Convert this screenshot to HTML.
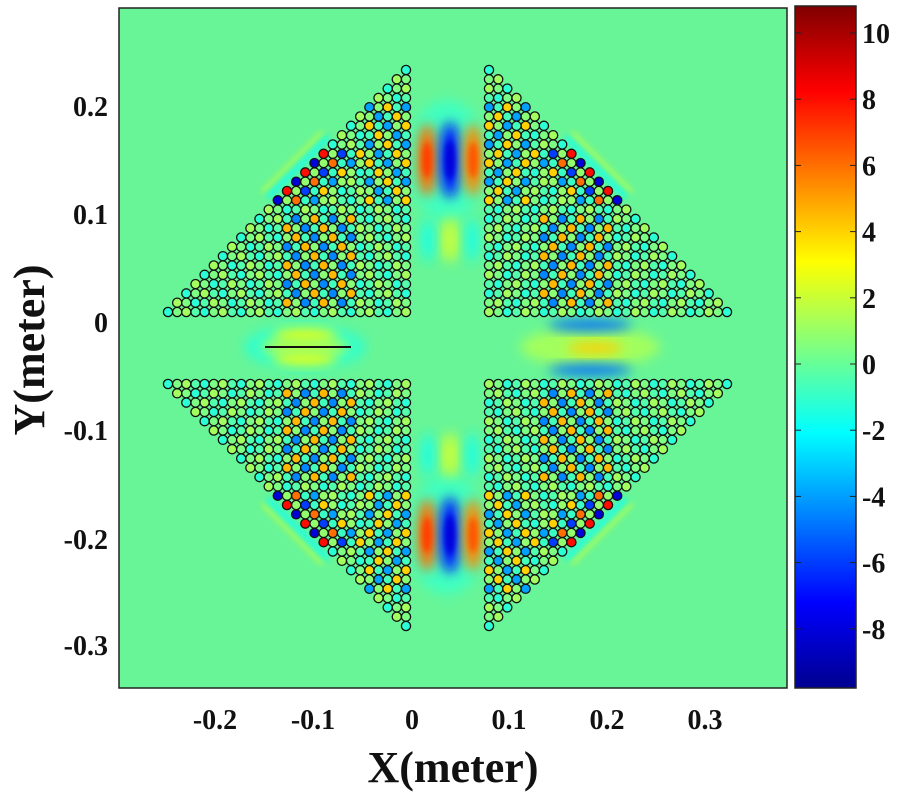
<!DOCTYPE html>
<html><head><meta charset="utf-8">
<style>
html,body{margin:0;padding:0;background:#fff;}
svg{display:block;}
text{font-family:"Liberation Serif",serif;font-weight:bold;fill:#111;}
</style></head>
<body>
<svg id="s" width="900" height="800" viewBox="0 0 900 800" xmlns="http://www.w3.org/2000/svg">
<defs>
<linearGradient id="jet" x1="0" y1="1" x2="0" y2="0">
<stop offset="0" stop-color="#00008f"/>
<stop offset="0.125" stop-color="#0000ff"/>
<stop offset="0.375" stop-color="#00ffff"/>
<stop offset="0.625" stop-color="#ffff00"/>
<stop offset="0.875" stop-color="#ff0000"/>
<stop offset="1" stop-color="#800000"/>
</linearGradient>
<filter id="bl" x="-50%" y="-50%" width="200%" height="200%"><feGaussianBlur stdDeviation="6"/></filter>
<filter id="bl2" x="-50%" y="-50%" width="200%" height="200%"><feGaussianBlur stdDeviation="3"/></filter>
<clipPath id="cp"><rect x="119" y="8" width="668" height="680"/></clipPath>
</defs>
<rect x="119" y="8" width="668" height="680" fill="#68f597"/>
<g id="field" clip-path="url(#cp)"></g>
<g id="circ"></g>
<line x1="265" y1="347" x2="351" y2="347" stroke="#111" stroke-width="2"/>
<rect x="119" y="8" width="668" height="680" fill="none" stroke="#222" stroke-width="1.5"/>
<rect x="795" y="6" width="61" height="682" fill="url(#jet)" stroke="#222" stroke-width="1.5"/>
<g id="cb"></g>
<g font-size="28" text-anchor="middle">
<text x="215" y="729">-0.2</text>
<text x="313" y="729">-0.1</text>
<text x="412" y="729">0</text>
<text x="509" y="729">0.1</text>
<text x="607" y="729">0.2</text>
<text x="705" y="729">0.3</text>
</g>
<g font-size="28" text-anchor="end">
<text x="108" y="116">0.2</text>
<text x="108" y="224">0.1</text>
<text x="108" y="332">0</text>
<text x="108" y="440">-0.1</text>
<text x="108" y="549">-0.2</text>
<text x="108" y="655">-0.3</text>
</g>
<text x="453" y="782" font-size="44" text-anchor="middle">X(meter)</text>
<text transform="translate(44,350) rotate(-90)" font-size="44" text-anchor="middle">Y(meter)</text>
</svg>
<script>
function jet(v){var t=(v+9.8)/20.6;t=Math.max(0,Math.min(1,t));
function c(x){return Math.round(255*Math.max(0,Math.min(1,x)));}
var r=1.5-Math.abs(4*t-3),g=1.5-Math.abs(4*t-2),b=1.5-Math.abs(4*t-1);
return "rgb("+c(r)+","+c(g)+","+c(b)+")";}
var NS="http://www.w3.org/2000/svg";
function el(p,n,a){var e=document.createElementNS(NS,n);for(var k in a)e.setAttribute(k,a[k]);p.appendChild(e);return e;}
var F=document.getElementById("field");
function blob(cx,cy,rx,ry,v,f){el(F,"ellipse",{cx:cx,cy:cy,rx:rx,ry:ry,fill:jet(v),filter:"url(#"+(f||"bl")+")"});}
[160,535].forEach(function(y){
blob(447,y,40,60,-0.8);
blob(427,y,10,36,6);blob(450,y,10,38,-7);blob(473,y,10,36,5.5);
blob(427,y,5,18,7,"bl2");blob(450,y,5,20,-8,"bl2");blob(473,y,5,18,6.5,"bl2");
});
blob(450,240,10,22,1.8);blob(428,240,7,22,-1.5);blob(472,240,7,22,-1.5);
blob(450,455,10,22,1.8);blob(428,455,7,22,-1.5);blob(472,455,7,22,-1.5);
blob(305,347,60,22,-1.2);blob(305,336,32,7,3);blob(305,358,32,7,3);blob(305,347,45,9,1.5);
blob(590,347,70,20,1.2);blob(590,325,42,6,-5);blob(590,370,42,6,-5);blob(595,348,28,6,4);
function streak(x1,y1,x2,y2,v,w){el(F,"line",{x1:x1,y1:y1,x2:x2,y2:y2,stroke:jet(v),"stroke-width":w,filter:"url(#bl2)"});}
streak(268,197,328,137,-1.8,5);streak(262,192,322,132,1.8,3);
streak(626,197,566,137,-1.8,5);streak(632,192,572,132,1.8,3);
streak(268,499,328,559,-1.8,5);streak(262,504,322,564,1.8,3);
streak(626,499,566,559,-1.8,5);streak(632,504,572,564,1.8,3);
var C=document.getElementById("circ");
var x0=168,dx=(406-168)/26,yb=312,dy=(312-70)/26;
function val(r,c){
 var d=c-(26-r);
 var s=((r%4<2)?1:-1)*(((c%4)<2)?1:-1);
 var on=((r+c)%2==0);
 var amp;
 if(r>=9&&r<=14&&d<6) amp=on?8-d:1.5;
 else if(c>=22&&r>=4&&r<=14) amp=on?4:1.2;
 else if(r>=16&&r<=25&&c>=13&&c<=20) amp=on?4.5:1.2;
 else amp=on?1.2:0.7;
 return amp*s*(on?1:-0.6);}
for(var r=0;r<=26;r++){for(var c=26-r;c<=26;c++){
 var v=val(r,c);
 var xl=x0+c*dx, yt=yb-(26-r)*dy;
 var xr=895-xl, yt2=696-yt;
 [[xl,yt],[xr,yt],[xl,yt2],[xr,yt2]].forEach(function(p){
  el(C,"circle",{cx:p[0].toFixed(1),cy:p[1].toFixed(1),r:4.6,fill:jet(v),stroke:"#111","stroke-width":1.3});
 });
}}
var CB=document.getElementById("cb");
[10,8,6,4,2,0,-2,-4,-6,-8].forEach(function(v){
 var y=364-v*33.1;
 el(CB,"line",{x1:795,y1:y,x2:801,y2:y,stroke:"#222","stroke-width":1});
 el(CB,"line",{x1:850,y1:y,x2:856,y2:y,stroke:"#222","stroke-width":1});
 var t=el(CB,"text",{x:862,y:y+10,"font-size":"28"});t.textContent=String(v);
});
</script>
</body></html>
